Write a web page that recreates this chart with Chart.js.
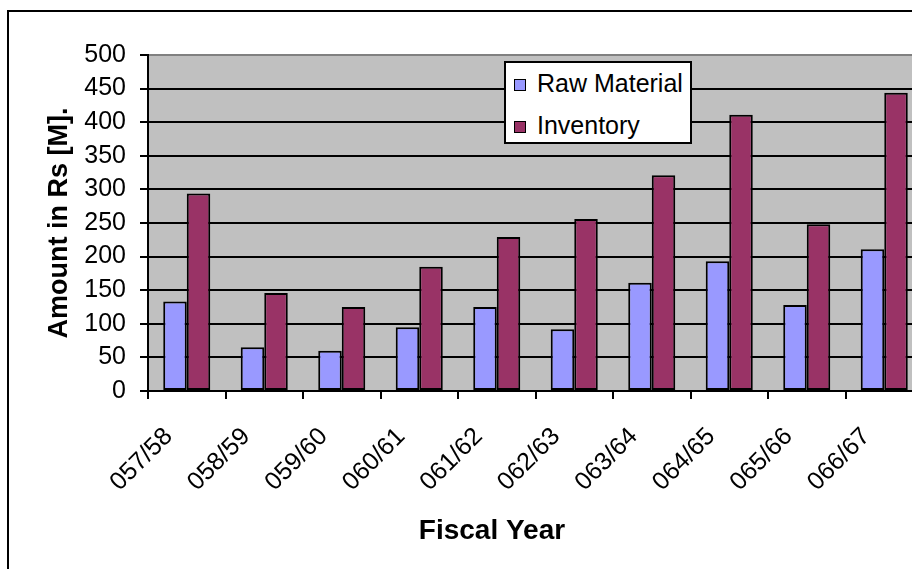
<!DOCTYPE html>
<html>
<head>
<meta charset="utf-8">
<script src="https://cdn.jsdelivr.net/npm/chart.js@4.4.0/dist/chart.umd.min.js"></script>
<style>
    html, body { margin: 0; padding: 0; width: 912px; height: 569px; overflow: hidden; background: #fff; }
    #frame { position: absolute; left: 7px; top: 10px; width: 1000px; height: 700px; border: 2px solid #000; }
    #wrap { position: absolute; left: 0; top: 0; width: 940px; height: 569px; }
    #legend {
        position: absolute; left: 504px; top: 61px; width: 184px; height: 79px;
        background: #fff; border: 2px solid #000;
        font-family: "Liberation Sans", Arial, sans-serif; font-size: 25px; color: #000;
    }
    #legend .item { position: absolute; left: 8px; height: 28px; line-height: 28px; white-space: nowrap; }
    #legend .box { display: inline-block; width: 10px; height: 10px; border: 1.5px solid #000; margin-right: 11px; vertical-align: 1px; }
</style>
</head>
<body>
<div id="frame"></div>
<div id="wrap"><canvas id="stockChart" width="940" height="569"></canvas></div>
<div id="legend"></div>
<script>
    // Năm tài chính và số liệu (triệu Rs)
    const years = ['057/58', '058/59', '059/60', '060/61', '061/62', '062/63', '063/64', '064/65', '065/66', '066/67'];
    const rawMaterial = [133, 65, 60, 95, 125, 92, 161, 193, 128, 211];
    const inventory = [294, 146, 125, 185, 229, 256, 321, 411, 248, 444];
    const yTicks = [0, 50, 100, 150, 200, 250, 300, 350, 400, 450, 500];

    const FONT = '"Liberation Sans", Arial, sans-serif';

    // Nền xám của vùng vẽ
    const plotBackground = {
        id: 'plotBackground',
        beforeDraw(chart) {
            const { ctx, chartArea: a } = chart;
            ctx.save();
            ctx.fillStyle = '#C0C0C0';
            ctx.fillRect(a.left, a.top, a.right - a.left, a.bottom - a.top);
            ctx.restore();
        }
    };

    // Tiêu đề trục hoành
    const xTitle = {
        id: 'xTitle',
        afterDraw(chart) {
            const ctx = chart.ctx;
            ctx.save();
            ctx.font = 'bold 28px ' + FONT;
            ctx.fillStyle = '#000';
            ctx.textAlign = 'center';
            ctx.textBaseline = 'middle';
            ctx.fillText('Fiscal Year', 492, 531);
            ctx.restore();
        }
    };

    const ctx = document.getElementById('stockChart').getContext('2d');

    const stockChart = new Chart(ctx, {
        type: 'bar',
        data: {
            labels: years,
            datasets: [{
                label: 'Raw Material',
                data: rawMaterial,
                backgroundColor: '#9999FF',
                borderColor: '#000',
                borderWidth: 2,
                borderSkipped: false
            }, {
                label: 'Inventory',
                data: inventory,
                backgroundColor: '#993366',
                borderColor: '#000',
                borderWidth: 2,
                borderSkipped: false
            }]
        },
        options: {
            responsive: false,
            animation: false,
            layout: { padding: { top: 55, right: 17, left: 0, bottom: 0 } },
            datasets: { bar: { categoryPercentage: 0.607, barPercentage: 1.0 } },
            plugins: {
                legend: { display: false },
                tooltip: { enabled: false }
            },
            scales: {
                x: {
                    afterFit(scale) { scale.height = 569 - 391; },
                    grid: { drawOnChartArea: false, color: '#000', lineWidth: 2, tickLength: 8, offset: true },
                    border: { color: '#000', width: 2 },
                    ticks: {
                        color: '#000',
                        font: { family: FONT, size: 25 },
                        minRotation: 45,
                        maxRotation: 45,
                        autoSkip: false,
                        padding: 23,
                        labelOffset: -18
                    }
                },
                y: {
                    min: 0,
                    max: 500,
                    afterFit(scale) { scale.width = 148; },
                    afterBuildTicks(scale) { scale.ticks = yTicks.map(v => ({ value: v })); },
                    grid: {
                        color: c => (c.tick && c.tick.value === 500) ? '#808080' : '#000',
                        tickColor: '#000',
                        lineWidth: 2,
                        tickLength: 8
                    },
                    border: { color: '#000', width: 2 },
                    ticks: {
                        color: '#000',
                        font: { family: FONT, size: 25 },
                        padding: 14
                    },
                    title: {
                        display: true,
                        text: 'Amount in Rs [M].',
                        color: '#000',
                        font: { family: FONT, size: 27, weight: 'bold' },
                        padding: { top: 43, bottom: 0 }
                    }
                }
            }
        },
        plugins: [plotBackground, xTitle]
    });

    // Chú thích dựng từ các dataset
    const legendEl = document.getElementById('legend');
    stockChart.data.datasets.forEach((ds, i) => {
        const item = document.createElement('div');
        item.className = 'item';
        item.style.top = (i === 0 ? 6 : 48) + 'px';
        item.innerHTML = '<span class="box" style="background:' + ds.backgroundColor + '"></span>' + ds.label;
        legendEl.appendChild(item);
    });
</script>
</body>
</html>
